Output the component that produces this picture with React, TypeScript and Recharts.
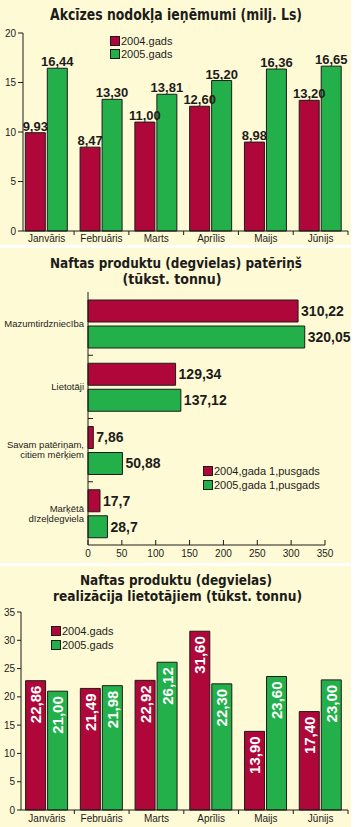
import React from "react"
import { Bar, BarChart, LabelList, XAxis, YAxis } from "recharts"

const months = ["Janvāris", "Februāris", "Marts", "Aprīlis", "Maijs", "Jūnijs"]

const exciseSeries = ["2004.gads", "2005.gads"]
const excise2004 = [9.93, 8.47, 11.0, 12.6, 8.98, 13.2]
const excise2005 = [16.44, 13.3, 13.81, 15.2, 16.36, 16.65]
const exciseTicks = [0, 5, 10, 15, 20]

const fuelSegments = ["Mazumtirdzniecība", "Lietotāji", "Savam patēriņam,\ncitiem mērķiem", "Marķētā\ndīzeļdegviela"]
const fuelSeries = ["2004,gada 1,pusgads", "2005,gada 1,pusgads"]
const fuel2004 = [310.22, 129.34, 7.86, 17.7]
const fuel2005 = [320.05, 137.12, 50.88, 28.7]
const fuelTicks = [0, 50, 100, 150, 200, 250, 300, 350]

const salesSeries = ["2004.gads", "2005.gads"]
const sales2004 = [22.86, 21.49, 22.92, 31.6, 13.9, 17.4]
const sales2005 = [21.0, 21.98, 26.12, 22.3, 23.6, 23.0]
const salesTicks = [0, 5, 10, 15, 20, 25, 30, 35]

const exciseData = months.map((month, i) => ({ month, a: excise2004[i], b: excise2005[i] }))
const fuelData = fuelSegments.map((segment, i) => ({ segment, a: fuel2004[i], b: fuel2005[i] }))
const salesData = months.map((month, i) => ({ month, a: sales2004[i], b: sales2005[i] }))

const RED = "#b0073a"
const GREEN = "#23b04b"
const INK = "#1c1c1a"
const PAPER = "#fffad6"
const SANS = "'Liberation Sans', Arial, sans-serif"
const TITLE_FONT = "'DejaVu Sans Condensed', 'DejaVu Sans', sans-serif"
const W = 351

const fmt2 = (v: any) => Number(v).toFixed(2).replace(".", ",")
const fmtRaw = (v: any) => String(v).replace(".", ",")

type Line = { text: string; x: number; y: number; width: number }

function Title({ lines, size }: { lines: Line[]; size: number }) {
  return (
    <svg width={W} height={46} style={{ position: "absolute", left: 0, top: 0, pointerEvents: "none" }}>
      {lines.map((l) => (
        <text
          key={l.text}
          x={l.x}
          y={l.y}
          textAnchor="middle"
          textLength={l.width}
          lengthAdjust="spacingAndGlyphs"
          fontFamily={TITLE_FONT}
          fontStretch="condensed"
          fontWeight="bold"
          fontSize={size}
          fill={INK}
        >
          {l.text}
        </text>
      ))}
    </svg>
  )
}

function Legend({ names, left, top, rowGap }: { names: string[]; left: number; top: number; rowGap: number }) {
  const colors = [RED, GREEN]
  return (
    <div style={{ position: "absolute", left, top, fontFamily: SANS, fontSize: 11, color: INK }}>
      {names.map((n, i) => (
        <div key={n} style={{ display: "flex", alignItems: "center", height: rowGap, whiteSpace: "nowrap" }}>
          <span
            style={{
              display: "inline-block",
              width: 8,
              height: 8,
              background: colors[i],
              border: `1px solid ${INK}`,
              marginRight: 1,
            }}
          />
          {n}
        </div>
      ))}
    </div>
  )
}

// month ticks: label under the category, small tick at the right edge of the band
function monthTick(half: number, baseline: number) {
  return (props: any) => {
    const { x, y, payload } = props
    return (
      <g>
        <line x1={x + half} x2={x + half} y1={y} y2={y + 4} stroke={INK} />
        <text x={x} y={y + baseline} textAnchor="middle" fontSize={10} fontFamily={SANS} fill={INK}>
          {payload.value}
        </text>
      </g>
    )
  }
}

function FuelValueTick(props: any) {
  const { x, y, payload } = props
  return (
    <g>
      <line x1={x} x2={x} y1={y} y2={y - 5} stroke={INK} />
      <text x={x} y={y + 11.5} textAnchor="middle" fontSize={10} fontFamily={SANS} fill={INK}>
        {payload.value}
      </text>
    </g>
  )
}

const FUEL_BAND = 253 / 4

function SegmentTick(props: any) {
  const { x, y, payload, index } = props
  const lines = String(payload.value).split("\n")
  const lh = 10
  const y0 = y - ((lines.length - 1) * lh) / 2
  return (
    <g>
      {index < fuelSegments.length - 1 && (
        <line x1={x} x2={x + 5} y1={y + FUEL_BAND / 2} y2={y + FUEL_BAND / 2} stroke={INK} />
      )}
      <text textAnchor="end" fontSize={9.5} fontFamily={SANS} fill={INK}>
        {lines.map((t, i) => (
          <tspan key={t} x={x - 4} y={y0 + i * lh} dy="0.35em">
            {t}
          </tspan>
        ))}
      </text>
    </g>
  )
}

function RotatedLabel(props: any) {
  const { x, y, width, value } = props
  const cx = x + width / 2
  const ty = y + 5
  return (
    <text
      x={cx}
      y={ty}
      transform={`rotate(-90, ${cx}, ${ty})`}
      textAnchor="end"
      dominantBaseline="central"
      fontSize={15}
      fontWeight="bold"
      fontFamily={SANS}
      fill="#ffffff"
    >
      {fmt2(value)}
    </text>
  )
}

const valueStyle = { fontFamily: SANS, fontWeight: "bold" as const, fill: INK, stroke: "none" }

function ExciseChart() {
  const pad = -3.7
  const half = (348 - 23 - pad) / 6 / 2
  return (
    <div style={{ position: "absolute", left: 0, top: 0, width: W, height: 245, background: PAPER }}>
      <BarChart width={W} height={245} data={exciseData} margin={{ top: 33, right: 3, bottom: 0, left: 0 }} barGap={2} barSize={20}>
        <XAxis
          dataKey="month"
          height={14}
          padding={{ left: pad, right: 0 }}
          interval={0}
          axisLine={{ stroke: INK }}
          tickLine={false}
          tickSize={0}
          tickMargin={0}
          tick={monthTick(half, 10.5)}
        />
        <YAxis
          type="number"
          domain={[0, 20]}
          ticks={exciseTicks}
          width={23}
          axisLine={{ stroke: INK }}
          tickLine={{ stroke: INK }}
          tickSize={5}
          tickMargin={2}
          tick={{ fontSize: 10, fontFamily: SANS, fill: INK }}
        />
        <Bar dataKey="a" fill={RED} stroke={INK} strokeWidth={1} isAnimationActive={false}>
          <LabelList dataKey="a" position="top" offset={2} formatter={fmt2} fontSize={13} {...valueStyle} />
        </Bar>
        <Bar dataKey="b" fill={GREEN} stroke={INK} strokeWidth={1} isAnimationActive={false}>
          <LabelList dataKey="b" position="top" offset={2} formatter={fmt2} fontSize={13} {...valueStyle} />
        </Bar>
      </BarChart>
      <Title size={16} lines={[{ text: "Akcīzes nodokļa ieņēmumi (milj. Ls)", x: 176, y: 20, width: 252 }]} />
      <Legend names={exciseSeries} left={110} top={35} rowGap={12.5} />
    </div>
  )
}

function FuelChart() {
  return (
    <div style={{ position: "absolute", left: 0, top: 248, width: W, height: 315, background: PAPER }}>
      <BarChart
        width={W}
        height={315}
        data={fuelData}
        layout="vertical"
        margin={{ top: 44, right: 26, bottom: 0, left: 0 }}
        barGap={4}
        barSize={22}
      >
        <XAxis
          type="number"
          domain={[0, 350]}
          ticks={fuelTicks}
          interval={0}
          height={18}
          axisLine={{ stroke: INK }}
          tickLine={false}
          tickSize={0}
          tickMargin={0}
          tick={FuelValueTick}
        />
        <YAxis
          type="category"
          dataKey="segment"
          width={88}
          interval={0}
          axisLine={{ stroke: INK }}
          tickLine={false}
          tickSize={0}
          tickMargin={0}
          tick={SegmentTick}
        />
        <Bar dataKey="a" fill={RED} stroke={INK} strokeWidth={1} isAnimationActive={false}>
          <LabelList dataKey="a" position="right" offset={3} formatter={fmtRaw} fontSize={14} {...valueStyle} />
        </Bar>
        <Bar dataKey="b" fill={GREEN} stroke={INK} strokeWidth={1} isAnimationActive={false}>
          <LabelList dataKey="b" position="right" offset={3} formatter={fmtRaw} fontSize={14} {...valueStyle} />
        </Bar>
      </BarChart>
      <Title
        size={13.5}
        lines={[
          { text: "Naftas produktu (degvielas) patēriņš", x: 176, y: 19.5, width: 252 },
          { text: "(tūkst. tonnu)", x: 172, y: 35.5, width: 99 },
        ]}
      />
      <Legend names={fuelSeries} left={203} top={216} rowGap={14} />
    </div>
  )
}

function SalesChart() {
  const pad = -1.4
  const half = (348 - 20.7 - pad) / 6 / 2
  return (
    <div style={{ position: "absolute", left: 0, top: 566, width: W, height: 261, background: PAPER }}>
      <BarChart width={W} height={261} data={salesData} margin={{ top: 46, right: 3, bottom: 0, left: 0 }} barGap={2} barSize={20}>
        <XAxis
          dataKey="month"
          height={17}
          padding={{ left: pad, right: 0 }}
          interval={0}
          axisLine={{ stroke: INK }}
          tickLine={false}
          tickSize={0}
          tickMargin={0}
          tick={monthTick(half, 11.5)}
        />
        <YAxis
          type="number"
          domain={[0, 35]}
          ticks={salesTicks}
          width={21}
          axisLine={{ stroke: INK }}
          tickLine={{ stroke: INK }}
          tickSize={4}
          tickMargin={2}
          tick={{ fontSize: 10, fontFamily: SANS, fill: INK }}
        />
        <Bar dataKey="a" fill={RED} stroke={INK} strokeWidth={1} isAnimationActive={false}>
          <LabelList dataKey="a" content={RotatedLabel} />
        </Bar>
        <Bar dataKey="b" fill={GREEN} stroke={INK} strokeWidth={1} isAnimationActive={false}>
          <LabelList dataKey="b" content={RotatedLabel} />
        </Bar>
      </BarChart>
      <Title
        size={13.5}
        lines={[
          { text: "Naftas produktu (degvielas)", x: 176, y: 18.5, width: 192 },
          { text: "realizācija lietotājiem (tūkst. tonnu)", x: 177.5, y: 34.5, width: 249 },
        ]}
      />
      <Legend names={salesSeries} left={51} top={58} rowGap={14} />
    </div>
  )
}

export default function App() {
  return (
    <div style={{ position: "absolute", left: 0, top: 0, width: 355, height: 827, background: "#ffffff" }}>
      <ExciseChart />
      <FuelChart />
      <SalesChart />
    </div>
  )
}
